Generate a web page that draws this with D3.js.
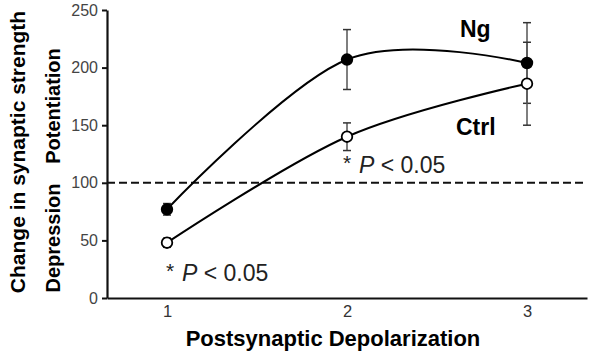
<!DOCTYPE html>
<html>
<head>
<meta charset="utf-8">
<script src="https://cdn.jsdelivr.net/npm/d3@7"></script>
<style>
  body { margin: 0; background: #fff; }
  text { font-family: "Liberation Sans", Arial, sans-serif; }
</style>
</head>
<body>
<div id="chart"></div>
<script>
// Data
const depolarization = [1, 2, 3];
const ngValues = [77, 207, 204];
const ngErrors = [5, 26, 35];
const ctrlValues = [48, 140, 186];
const ctrlErrors = [4, 12, 36];
const yTicks = [0, 50, 100, 150, 200, 250];
const baseline = 100;

const W = 600, H = 358;
const margin = { top: 10, right: 13, bottom: 60, left: 107 };

const svg = d3.select("#chart").append("svg")
  .attr("width", W).attr("height", H);

const x = d3.scaleLinear()
  .domain([2 / 3, 3 + 1 / 3])
  .range([margin.left, W - margin.right]);

const y = d3.scaleLinear()
  .domain([0, 250])
  .range([H - margin.bottom, margin.top]);

// dashed 100% line
svg.append("line")
  .attr("x1", x.range()[0]).attr("x2", x.range()[1])
  .attr("y1", y(baseline)).attr("y2", y(baseline))
  .attr("stroke", "#111").attr("stroke-width", 2)
  .attr("stroke-dasharray", "8,4");

// Axes
const yAxis = svg.append("g")
  .attr("transform", `translate(${margin.left},0)`)
  .call(d3.axisLeft(y).tickValues(yTicks).tickSize(5).tickPadding(4).tickSizeOuter(0));
yAxis.select(".domain").attr("stroke", "#111").attr("stroke-width", 2.2);
yAxis.selectAll(".tick line").attr("stroke", "#111").attr("stroke-width", 2);
yAxis.selectAll(".tick text").attr("font-size", 16).attr("fill", "#444")
  .style("font-family", "'Liberation Sans', Arial, sans-serif");

const xAxis = svg.append("g")
  .attr("transform", `translate(0,${y(0)})`)
  .call(d3.axisBottom(x).tickValues(depolarization).tickFormat(d3.format("d"))
    .tickSize(0).tickPadding(7).tickSizeOuter(0));
xAxis.select(".domain").attr("stroke", "#111").attr("stroke-width", 2.2);
xAxis.selectAll(".tick text").attr("font-size", 16.5).attr("fill", "#333")
  .style("font-family", "'Liberation Sans', Arial, sans-serif");

// Series
const series = [
  { name: "Ng", values: ngValues, errors: ngErrors, fill: "#000" },
  { name: "Ctrl", values: ctrlValues, errors: ctrlErrors, fill: "#fff" }
];

const line = d3.line()
  .x((d, i) => x(depolarization[i]))
  .y(d => y(d))
  .curve(d3.curveCardinal);

series.forEach(s => {
  svg.append("path")
    .datum(s.values)
    .attr("d", line)
    .attr("fill", "none")
    .attr("stroke", "#000")
    .attr("stroke-width", 2);
});

series.forEach(s => {
  const g = svg.append("g");
  s.values.forEach((v, i) => {
    const cx = x(depolarization[i]);
    const lo = y(v - s.errors[i]), hi = y(v + s.errors[i]);
    g.append("line").attr("x1", cx).attr("x2", cx).attr("y1", lo).attr("y2", hi)
      .attr("stroke", "#555").attr("stroke-width", 1.5);
    [lo, hi].forEach(yy => g.append("line")
      .attr("x1", cx - 4).attr("x2", cx + 4).attr("y1", yy).attr("y2", yy)
      .attr("stroke", "#333").attr("stroke-width", 1.5));
  });
});

series.forEach(s => {
  svg.append("g").selectAll("circle")
    .data(s.values)
    .join("circle")
    .attr("cx", (d, i) => x(depolarization[i]))
    .attr("cy", d => y(d))
    .attr("r", 5.3)
    .attr("fill", s.fill)
    .attr("stroke", "#000")
    .attr("stroke-width", 1.8);
});

// Series labels
svg.append("text").attr("x", 460).attr("y", 37)
  .attr("font-size", 23).attr("font-weight", 700).text("Ng");
svg.append("text").attr("x", 456).attr("y", 135)
  .attr("font-size", 23).attr("font-weight", 700).text("Ctrl");

// Significance annotations
function sig(xStar, xP, yPos) {
  svg.append("text").attr("x", xStar).attr("y", yPos - 3)
    .attr("font-size", 21).attr("fill", "#222").text("*");
  const t = svg.append("text").attr("x", xP).attr("y", yPos)
    .attr("font-size", 23).attr("fill", "#222");
  t.append("tspan").attr("font-style", "italic").text("P");
  t.append("tspan").text(" < 0.05");
}
sig(343, 359, 173);
sig(166, 182, 281);

// Axis titles
svg.append("text")
  .attr("x", 333)
  .attr("y", 346)
  .attr("text-anchor", "middle")
  .attr("font-size", 22).attr("font-weight", 700)
  .text("Postsynaptic Depolarization");

svg.append("text")
  .attr("transform", "translate(25,152) rotate(-90)")
  .attr("text-anchor", "middle")
  .attr("font-size", 21).attr("font-weight", 700)
  .text("Change in synaptic strength");

svg.append("text")
  .attr("transform", "translate(60,106) rotate(-90)")
  .attr("text-anchor", "middle")
  .attr("font-size", 20).attr("font-weight", 700)
  .text("Potentiation");

svg.append("text")
  .attr("transform", "translate(60,238) rotate(-90)")
  .attr("text-anchor", "middle")
  .attr("font-size", 20).attr("font-weight", 700)
  .text("Depression");
</script>
</body>
</html>
